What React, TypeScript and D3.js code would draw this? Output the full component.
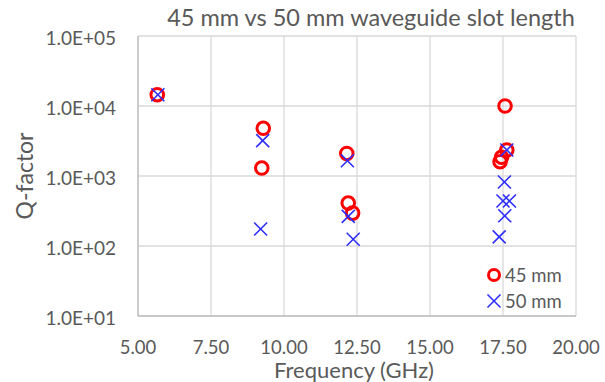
import * as d3 from "d3";

// 45 mm slot (red circles)
const freq45 = [5.66, 9.29, 9.24, 12.15, 12.2, 12.35, 17.57, 17.63, 17.45, 17.4];
const q45 = [14500, 4800, 1300, 2100, 410, 295, 10000, 2350, 1850, 1600];

// 50 mm slot (blue crosses)
const freq50 = [5.68, 9.27, 9.2, 12.17, 12.2, 12.37, 17.63, 17.55, 17.5, 17.72, 17.56, 17.37];
const q50 = [14500, 3200, 175, 1650, 265, 125, 2350, 820, 440, 440, 270, 135];

const xTicks = [5, 7.5, 10, 12.5, 15, 17.5, 20];
const yTicks = [10, 100, 1000, 10000, 100000];
const seriesNames = ["45 mm", "50 mm"];

const W = 605;
const H = 382;
const left = 138;
const right = 576;
const top = 36;
const bottom = 316;
const gray = "#595959";
const font = "Lato, 'Open Sans', sans-serif";

export default function App() {
  const x = d3.scaleLinear().domain([5, 20]).range([left, right]);
  const y = d3.scaleLog().domain([10, 100000]).range([bottom, top]);
  const cross = (cx: number, cy: number, r: number, key: string) => (
    <g key={key} stroke="#2e2eff" strokeWidth={1.6}>
      <line x1={cx - r} y1={cy - r} x2={cx + r} y2={cy + r} />
      <line x1={cx - r} y1={cy + r} x2={cx + r} y2={cy - r} />
    </g>
  );

  return (
    <svg width={W} height={H} style={{ position: "absolute", left: 0, top: 0 }} fontFamily={font}>
      <rect width={W} height={H} fill="#fff" />
      {xTicks.map((t) => (
        <line key={"gx" + t} x1={x(t)} x2={x(t)} y1={top} y2={bottom} stroke="#d9d9d9" strokeWidth={1.3} />
      ))}
      {yTicks.map((t) => (
        <line key={"gy" + t} x1={left} x2={right} y1={y(t)} y2={y(t)} stroke="#d9d9d9" strokeWidth={1.3} />
      ))}
      <line x1={left} x2={left} y1={top} y2={bottom} stroke="#bfbfbf" strokeWidth={1.3} />
      <line x1={left} x2={right} y1={bottom} y2={bottom} stroke="#bfbfbf" strokeWidth={1.3} />
      {yTicks.map((t) => (
        <text key={"ly" + t} x={116} y={y(t) + 2} dy="0.35em" textAnchor="end" fontSize={19} fill={gray}>
          {"1.0E+" + String(Math.round(Math.log10(t))).padStart(2, "0")}
        </text>
      ))}
      {xTicks.map((t) => (
        <text key={"lx" + t} x={x(t)} y={354} textAnchor="middle" fontSize={18.5} fill={gray}>
          {t.toFixed(2)}
        </text>
      ))}
      <text x={354} y={378} textAnchor="middle" fontSize={22} fill={gray}>Frequency (GHz)</text>
      <text transform={`translate(33,${(top + bottom) / 2}) rotate(-90)`} textAnchor="middle" fontSize={23} fill={gray}>
        Q-factor
      </text>
      <text x={371} y={26} textAnchor="middle" fontSize={23.5} fill={gray}>
        45 mm vs 50 mm waveguide slot length
      </text>
      {freq45.map((f, i) => (
        <circle key={"c" + i} cx={x(f)} cy={y(q45[i])} r={6.3} fill="none" stroke="#ff0000" strokeWidth={3} />
      ))}
      {freq50.map((f, i) => cross(x(f), y(q50[i]), 6.5, "x" + i))}
      <circle cx={494} cy={275} r={5.5} fill="none" stroke="#ff0000" strokeWidth={3} />
      <text x={505} y={276} dy="0.35em" fontSize={18.5} fill={gray}>{seriesNames[0]}</text>
      {cross(494, 301, 6.5, "leg")}
      <text x={505} y={302} dy="0.35em" fontSize={18.5} fill={gray}>{seriesNames[1]}</text>
    </svg>
  );
}
